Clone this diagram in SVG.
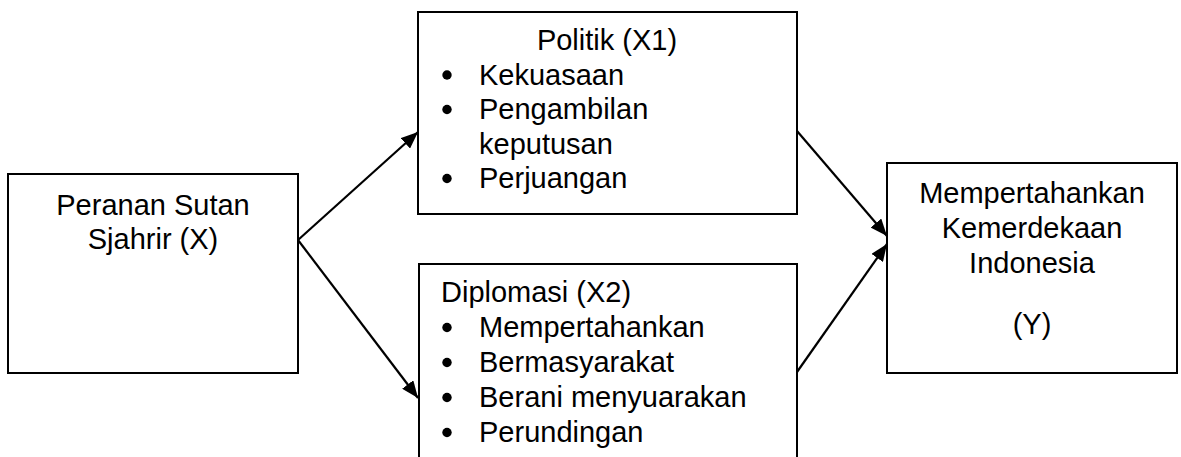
<svg xmlns="http://www.w3.org/2000/svg" width="1181" height="457" viewBox="0 0 1181 457">
<style>
.box{fill:#fff;stroke:#000;stroke-width:2}
.t{font-family:"Liberation Sans",Arial,sans-serif;font-size:29px;fill:#000}
.c{text-anchor:middle}
.edge{stroke:#000;stroke-width:2.2;fill:none;marker-end:url(#ah)}
.b{fill:#000}
</style>
<defs>
<marker id="ah" markerUnits="userSpaceOnUse" markerWidth="18" markerHeight="14" viewBox="0 0 18 14" refX="17" refY="7" orient="auto">
<path d="M0,0 L17,7 L0,14 z" fill="#000"/>
</marker>
</defs>
<g id="node-x">
<rect class="box" x="8" y="174" width="290" height="199"/>
<text class="t c" x="153" y="215">Peranan Sutan</text>
<text class="t c" x="153" y="249">Sjahrir (X)</text>
</g>
<g id="node-x1">
<rect class="box" x="418" y="12" width="379" height="202"/>
<text class="t c" x="607" y="50">Politik (X1)</text>
<circle class="b" cx="447" cy="75" r="4.7"/>
<text class="t" x="479" y="84.5">Kekuasaan</text>
<circle class="b" cx="447" cy="109.5" r="4.7"/>
<text class="t" x="479" y="119">Pengambilan</text>
<text class="t" x="479" y="153.5">keputusan</text>
<circle class="b" cx="447" cy="178.5" r="4.7"/>
<text class="t" x="479" y="188">Perjuangan</text>
</g>
<g id="node-x2">
<rect class="box" x="419" y="264" width="378" height="220"/>
<text class="t" x="441" y="302">Diplomasi (X2)</text>
<circle class="b" cx="447" cy="327.5" r="4.7"/>
<text class="t" x="479" y="337">Mempertahankan</text>
<circle class="b" cx="447" cy="362.5" r="4.7"/>
<text class="t" x="479" y="372">Bermasyarakat</text>
<circle class="b" cx="447" cy="397.5" r="4.7"/>
<text class="t" x="479" y="407">Berani menyuarakan</text>
<circle class="b" cx="447" cy="432.5" r="4.7"/>
<text class="t" x="479" y="442">Perundingan</text>
</g>
<g id="node-y">
<rect class="box" x="887" y="163" width="290" height="210"/>
<text class="t c" x="1032" y="203">Mempertahankan</text>
<text class="t c" x="1032" y="238">Kemerdekaan</text>
<text class="t c" x="1032" y="273">Indonesia</text>
<text class="t c" x="1032" y="334">(Y)</text>
</g>
<g id="connectors">
<line class="edge" x1="298" y1="240" x2="418" y2="132"/>
<line class="edge" x1="298" y1="240" x2="418" y2="398"/>
<line class="edge" x1="797" y1="131" x2="887" y2="236"/>
<line class="edge" x1="797" y1="372" x2="887" y2="244"/>
</g>
</svg>
